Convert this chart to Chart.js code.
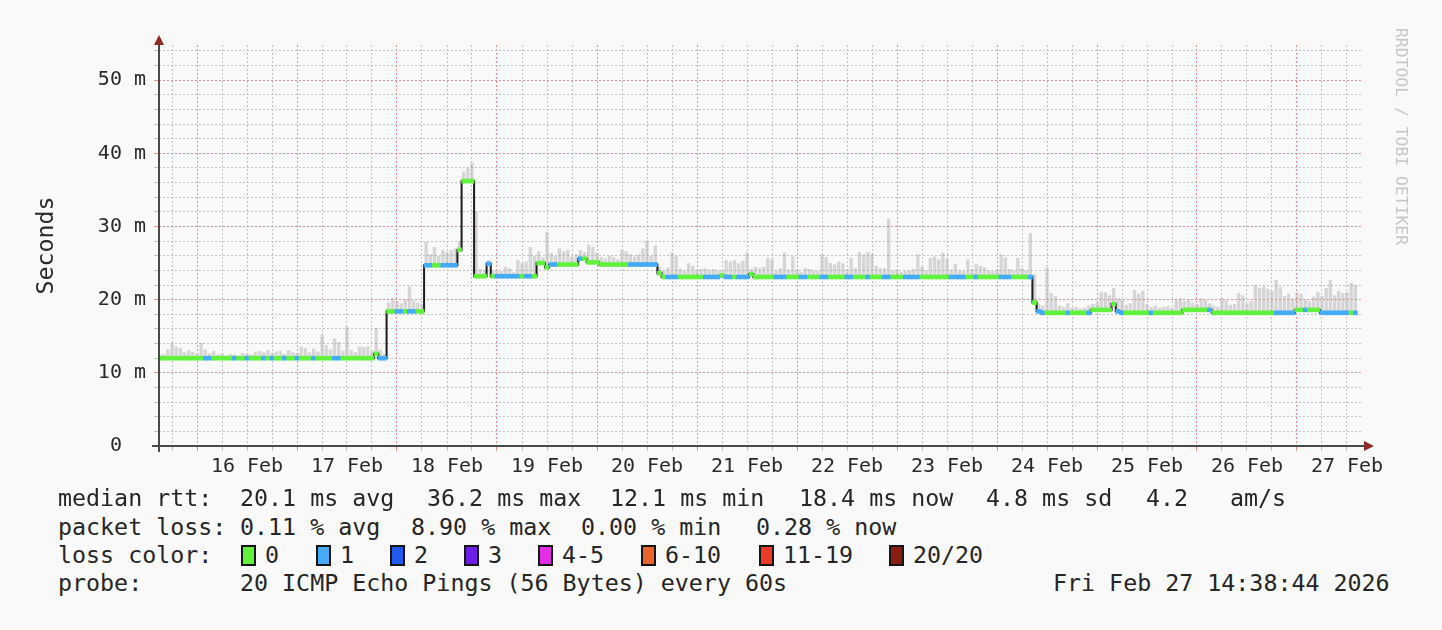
<!DOCTYPE html>
<html>
<head>
<meta charset="utf-8">
<script src="https://cdn.jsdelivr.net/npm/chart.js@4.4.1/dist/chart.umd.min.js"></script>
<style>
  html, body { margin: 0; padding: 0; background: #f9f9f9; }
  body { width: 1442px; height: 630px; position: relative; overflow: hidden;
         font-family: 'DejaVu Sans Mono', monospace; color: #262626; }
  #wrap { position: absolute; left: 0; top: 0; width: 1442px; height: 490px; }
  .t { position: absolute; white-space: pre; font-size: 23.3px; line-height: 28px; }
  .box { position: absolute; width: 15px; height: 21px; border: 2px solid #151515; box-sizing: border-box; }
  #wm { position: absolute; left: 1411px; top: 28px; transform-origin: 0 0; transform: rotate(90deg);
        font-size: 16.4px; line-height: 19px; color: #c6c6c6; white-space: pre; }
</style>
</head>
<body>
<div id="wrap"><canvas id="c"></canvas></div>
<div id="wm">RRDTOOL / TOBI OETIKER</div>
<div id="legend"></div>
<script>
// hourly samples, first one at 15 Feb 15:00 (hour -9 relative to 16 Feb 00:00)
const startHour = -9
const dayLabels = ['16 Feb', '17 Feb', '18 Feb', '19 Feb', '20 Feb', '21 Feb',
  '22 Feb', '23 Feb', '24 Feb', '25 Feb', '26 Feb', '27 Feb']

// median rtt in ms
const median = [
  12.0, 12.0, 12.0, 12.0, 12.0, 12.0, 12.0, 12.0, 12.0,
  12.0, 12.0, 12.0, 12.0, 12.0, 12.0, 12.0, 12.0, 12.0, 12.0, 12.0, 12.0, 12.0, 12.0, 12.0, 12.0, 12.0, 12.0, 12.0, 12.0, 12.0, 12.0, 12.0, 12.0,
  12.0, 12.0, 12.0, 12.0, 12.0, 12.0, 12.0, 12.0, 12.0, 12.0, 12.0, 12.0, 12.0, 12.0, 12.0, 12.0, 12.0, 12.0, 12.0, 12.6, 12.0, 12.0, 18.4, 18.4,
  18.4, 18.4, 18.4, 18.4, 18.4, 18.4, 18.4, 24.7, 24.7, 24.7, 24.7, 24.7, 24.7, 24.7, 24.7, 26.8, 36.2, 36.2, 36.2, 23.2, 23.2, 23.2, 24.9, 23.2,
  23.2, 23.2, 23.2, 23.2, 23.2, 23.2, 23.2, 23.2, 23.2, 23.2, 25.0, 25.0, 24.4, 24.8, 24.8, 24.8, 24.8, 24.8, 24.8, 24.8, 25.6, 25.6, 25.1, 25.1,
  25.1, 24.8, 24.8, 24.8, 24.8, 24.8, 24.8, 24.8, 24.8, 24.8, 24.8, 24.8, 24.8, 24.8, 24.8, 23.6, 23.1, 23.1, 23.1, 23.1, 23.1, 23.1, 23.1, 23.1,
  23.1, 23.1, 23.1, 23.1, 23.1, 23.1, 23.3, 23.1, 23.1, 23.1, 23.1, 23.1, 23.1, 23.5, 23.1, 23.1, 23.1, 23.1, 23.1, 23.1, 23.1, 23.1, 23.1, 23.1,
  23.1, 23.1, 23.1, 23.1, 23.1, 23.1, 23.1, 23.1, 23.1, 23.1, 23.1, 23.1, 23.1, 23.1, 23.1, 23.1, 23.1, 23.1, 23.1, 23.1, 23.1, 23.1, 23.1, 23.1,
  23.1, 23.1, 23.1, 23.1, 23.1, 23.1, 23.1, 23.1, 23.1, 23.1, 23.1, 23.1, 23.1, 23.1, 23.1, 23.1, 23.1, 23.1, 23.1, 23.1, 23.1, 23.1, 23.1, 23.1,
  23.1, 23.1, 23.1, 23.1, 23.1, 23.1, 23.1, 23.1, 23.1, 19.6, 18.4, 18.2, 18.2, 18.2, 18.2, 18.2, 18.2, 18.2, 18.2, 18.2, 18.2, 18.2, 18.2, 18.6,
  18.6, 18.6, 18.6, 18.6, 19.4, 18.4, 18.2, 18.2, 18.2, 18.2, 18.2, 18.2, 18.2, 18.2, 18.2, 18.2, 18.2, 18.2, 18.2, 18.2, 18.2, 18.6, 18.6, 18.6,
  18.6, 18.6, 18.6, 18.6, 18.2, 18.2, 18.2, 18.2, 18.2, 18.2, 18.2, 18.2, 18.2, 18.2, 18.2, 18.2, 18.2, 18.2, 18.2, 18.2, 18.2, 18.2, 18.2, 18.2,
  18.6, 18.6, 18.6, 18.6, 18.6, 18.6, 18.2, 18.2, 18.2, 18.2, 18.2, 18.2, 18.2, 18.2, 18.2
]

// top of the smoke (highest ping) in ms
const smokeTop = [
  12.5, 12.6, 13.2, 14.1, 13.6, 13.4, 12.8, 13.1, 12.9,
  12.6, 14.1, 13.2, 12.7, 13.0, 12.5, 12.6, 12.4, 12.6, 12.5, 12.4, 12.7, 12.6, 12.5, 12.9, 13.0, 12.8, 13.1, 12.7, 12.9, 13.0, 12.6, 13.1, 12.8,
  12.7, 13.6, 13.4, 12.8, 13.3, 12.9, 15.2, 13.8, 13.2, 14.7, 14.2, 13.0, 16.3, 13.1, 12.8, 13.6, 13.5, 13.6, 13.0, 16.1, 13.2, 12.6, 19.6, 20.2,
  19.8, 19.5, 20.0, 21.8, 19.9, 19.6, 19.4, 27.9, 26.2, 27.2, 26.0, 26.8, 26.5, 26.8, 27.0, 28.0, 37.5, 38.0, 38.7, 32.0, 24.2, 24.0, 25.4, 24.0,
  24.1, 23.9, 24.5, 24.3, 23.8, 25.4, 25.0, 25.2, 27.2, 26.0, 26.6, 25.8, 29.2, 26.4, 26.0, 27.0, 26.6, 26.8, 25.9, 26.2, 26.8, 26.5, 27.5, 27.2,
  26.4, 25.8, 25.6, 26.0, 25.8, 25.5, 26.8, 26.6, 26.2, 25.9, 26.2, 27.0, 28.1, 26.0, 27.4, 24.5, 24.0, 24.4, 26.4, 26.0, 24.2, 24.0, 25.0, 24.6,
  24.0, 24.2, 24.3, 24.1, 24.2, 24.0, 24.0, 25.4, 25.2, 25.4, 25.0, 25.3, 26.4, 24.2, 24.5, 24.3, 24.5, 25.7, 25.5, 24.0, 24.3, 26.4, 24.1, 25.9,
  24.0, 23.8, 24.3, 24.2, 24.0, 23.9, 26.2, 25.8, 25.0, 24.8, 25.2, 25.0, 24.2, 25.7, 24.3, 26.5, 26.2, 26.5, 26.3, 24.6, 24.3, 24.3, 31.1, 24.0,
  24.0, 23.8, 23.9, 24.0, 24.2, 26.2, 24.5, 24.0, 25.7, 25.9, 25.5, 26.4, 25.6, 24.1, 24.9, 24.0, 23.9, 25.5, 24.2, 24.9, 24.6, 24.4, 24.0, 23.9,
  24.0, 26.2, 25.8, 24.2, 24.0, 25.7, 24.3, 24.0, 29.1, 23.5, 19.5, 19.2, 24.4, 20.9, 20.5, 19.2, 19.0, 19.5, 18.9, 19.0, 18.8, 18.9, 19.2, 19.4,
  19.6, 21.1, 21.0, 20.6, 21.6, 20.2, 20.0, 19.3, 19.5, 21.3, 20.8, 21.2, 19.4, 19.0, 19.2, 18.9, 19.0, 19.1, 18.9, 20.0, 20.2, 19.8, 20.0, 19.6,
  19.4, 20.2, 20.0, 19.5, 19.2, 19.0, 20.2, 20.0, 19.3, 19.4, 20.9, 20.6, 19.5, 19.8, 22.0, 21.6, 21.8, 21.5, 21.2, 22.7, 21.7, 20.5, 20.8, 20.2,
  21.0, 20.8, 20.0, 19.8, 20.4, 21.0, 20.5, 21.6, 22.7, 20.6, 21.2, 20.9, 21.0, 22.3, 22.0
]

// loss band per sample (index into lossLabels / lossColors)
const lossBand = [
  0, 0, 0, 0, 0, 0, 0, 0, 0,
  0, 0, 1, 1, 0, 0, 0, 0, 0, 1, 0, 0, 1, 0, 0, 0, 1, 0, 1, 0, 0, 1, 0, 0,
  1, 0, 0, 0, 1, 0, 0, 0, 0, 1, 1, 0, 0, 0, 0, 0, 0, 0, 0, 0, 1, 1, 0, 0,
  1, 1, 0, 1, 1, 0, 0, 1, 1, 0, 0, 1, 1, 1, 1, 0, 0, 0, 0, 0, 0, 0, 1, 0,
  1, 1, 1, 1, 1, 1, 0, 1, 1, 0, 0, 0, 0, 1, 1, 0, 0, 0, 0, 0, 1, 0, 0, 0,
  0, 0, 0, 0, 0, 0, 0, 0, 1, 1, 1, 1, 1, 1, 1, 0, 0, 1, 1, 1, 0, 0, 0, 0,
  0, 0, 1, 1, 1, 1, 0, 1, 1, 0, 1, 1, 1, 0, 0, 0, 0, 0, 0, 1, 1, 1, 0, 0,
  0, 1, 1, 0, 0, 0, 1, 1, 0, 0, 0, 0, 1, 1, 0, 0, 0, 1, 0, 0, 0, 1, 1, 0,
  0, 0, 1, 1, 1, 1, 0, 0, 0, 0, 0, 0, 0, 1, 1, 1, 1, 0, 0, 1, 0, 0, 0, 0,
  0, 1, 1, 1, 0, 0, 0, 0, 1, 0, 1, 1, 0, 0, 0, 0, 0, 1, 0, 0, 0, 0, 1, 0,
  0, 0, 0, 0, 0, 1, 1, 0, 0, 0, 0, 0, 0, 1, 0, 0, 0, 0, 0, 0, 0, 0, 0, 0,
  0, 0, 0, 1, 0, 0, 0, 0, 0, 0, 0, 0, 0, 0, 0, 0, 0, 0, 0, 1, 1, 1, 1, 1,
  0, 0, 1, 0, 0, 0, 1, 1, 1, 1, 1, 1, 1, 0, 1
]

const lossLabels = ['0', '1', '2', '3', '4-5', '6-10', '11-19', '20/20']
const lossColors = ['#62f23e', '#45aaf7', '#2459f0', '#6c1de6', '#e22fe6', '#ea642b', '#ea3a2c', '#8a1c13']

const statLines = [
  ['median rtt:', '20.1 ms avg', '36.2 ms max', '12.1 ms min', '18.4 ms now', '4.8 ms sd', '4.2', 'am/s'],
  ['packet loss:', '0.11 % avg', '8.90 % max', '0.00 % min', '0.28 % now']
]
const probeText = ['probe:', '20 ICMP Echo Pings (56 Bytes) every 60s', 'Fri Feb 27 14:38:44 2026']

// legend layout (pixel positions)
const statX = [[58, 240, 427, 610, 799, 986, 1146, 1230], [58, 240, 411, 581, 756]]
const lineTop = [484, 513, 541, 569]
const boxX = [241, 316, 390, 464, 538, 641, 759, 889]
const probeX = [58, 240, 1053]

const legend = document.getElementById('legend')
function addText (x, y, s) {
  const d = document.createElement('div')
  d.className = 't'
  d.style.left = x + 'px'
  d.style.top = y + 'px'
  d.textContent = s
  legend.appendChild(d)
}
statLines.forEach((line, r) => line.forEach((s, k) => addText(statX[r][k], lineTop[r], s)))
addText(58, lineTop[2], 'loss color:')
lossLabels.forEach((s, k) => {
  const b = document.createElement('div')
  b.className = 'box'
  b.style.left = boxX[k] + 'px'
  b.style.top = (lineTop[2] + 4) + 'px'
  b.style.background = lossColors[k]
  legend.appendChild(b)
  addText(boxX[k] + 24, lineTop[2], s)
})
probeText.forEach((s, k) => addText(probeX[k], lineTop[3], s))

const hours = median.map((v, i) => startHour + i)
const gridRed = '#ec8f8f'
const gridGray = '#c2c2c2'

const axisArrows = {
  id: 'axisArrows',
  afterDatasetsDraw (chart) {
    const { ctx, chartArea: a } = chart
    ctx.save()
    ctx.strokeStyle = '#4a4a4a'
    ctx.lineWidth = 2
    ctx.beginPath()
    ctx.moveTo(a.left - 7, a.bottom)
    ctx.lineTo(a.right + 4, a.bottom)
    ctx.moveTo(a.left, a.bottom + 6)
    ctx.lineTo(a.left, a.top - 2)
    ctx.stroke()
    ctx.fillStyle = '#8e2a2a'
    ctx.beginPath()
    ctx.moveTo(a.left, a.top - 10)
    ctx.lineTo(a.left - 5, a.top)
    ctx.lineTo(a.left + 5, a.top)
    ctx.closePath()
    ctx.fill()
    ctx.beginPath()
    ctx.moveTo(a.right + 12, a.bottom)
    ctx.lineTo(a.right + 2, a.bottom - 5)
    ctx.lineTo(a.right + 2, a.bottom + 5)
    ctx.closePath()
    ctx.fill()
    ctx.restore()
  }
}

Chart.defaults.font.family = "'DejaVu Sans Mono', monospace"
Chart.defaults.color = '#2a2a2a'

new Chart(document.getElementById('c'), {
  type: 'bar',
  data: {
    datasets: [
      {
        // median coloured by loss
        type: 'bar',
        data: hours.map((h, i) => ({ x: h, y: [median[i] - 0.27, median[i] + 0.27] })),
        backgroundColor: lossBand.map(b => lossColors[b]),
        borderWidth: 0,
        barPercentage: 1,
        categoryPercentage: 1,
        grouped: false,
        order: 0
      },
      {
        type: 'line',
        data: hours.map((h, i) => ({ x: h, y: median[i] })),
        stepped: 'middle',
        borderColor: '#1c1c1c',
        borderWidth: 2,
        pointRadius: 0,
        fill: false,
        order: 1
      },
      {
        // smoke
        type: 'bar',
        data: hours.map((h, i) => ({ x: h, y: [median[i], smokeTop[i]] })),
        backgroundColor: 'rgba(160,160,160,0.4)',
        borderWidth: 0,
        barPercentage: 0.8,
        categoryPercentage: 1,
        grouped: false,
        order: 2
      }
    ]
  },
  options: {
    responsive: true,
    maintainAspectRatio: false,
    animation: false,
    layout: { padding: { left: 0, top: 45, right: 80, bottom: 0 } },
    plugins: { legend: { display: false }, tooltip: { enabled: false } },
    scales: {
      x: {
        type: 'linear',
        min: -9.12,
        max: 279.6,
        offset: false,
        afterBuildTicks: (s) => {
          const t = []
          for (let v = -6; v <= 276; v += 6) t.push({ value: v })
          s.ticks = t
        },
        afterFit: (s) => { s.height = 44 },
        ticks: {
          autoSkip: false,
          maxRotation: 0,
          padding: 4,
          font: { size: 20 },
          callback: (v) => (v % 24 === 12 ? dayLabels[(v - 12) / 24] : '')
        },
        grid: {
          offset: false,
          tickLength: 5,
          color: (c) => (c.tick && c.tick.value % 24 === 0 ? gridRed : gridGray)
        },
        border: { display: false, dash: [2, 2] }
      },
      y: {
        min: 0,
        max: 54.8,
        afterBuildTicks: (s) => {
          const t = []
          for (let v = 0; v <= 54; v += 2) t.push({ value: v })
          s.ticks = t
        },
        afterFit: (s) => { s.width = 159 },
        ticks: {
          autoSkip: false,
          padding: 8,
          font: { size: 20 },
          callback: (v) => (v % 10 === 0 ? (v === 0 ? '0  ' : v + ' m') : '')
        },
        grid: {
          tickLength: 5,
          color: (c) => (c.tick && c.tick.value % 10 === 0 ? gridRed : gridGray)
        },
        border: { display: false, dash: [2, 2] },
        title: {
          display: true,
          text: 'Seconds',
          font: { size: 23.3 },
          padding: { top: 33, bottom: 0 }
        }
      }
    }
  },
  plugins: [axisArrows]
})
</script>
</body>
</html>
